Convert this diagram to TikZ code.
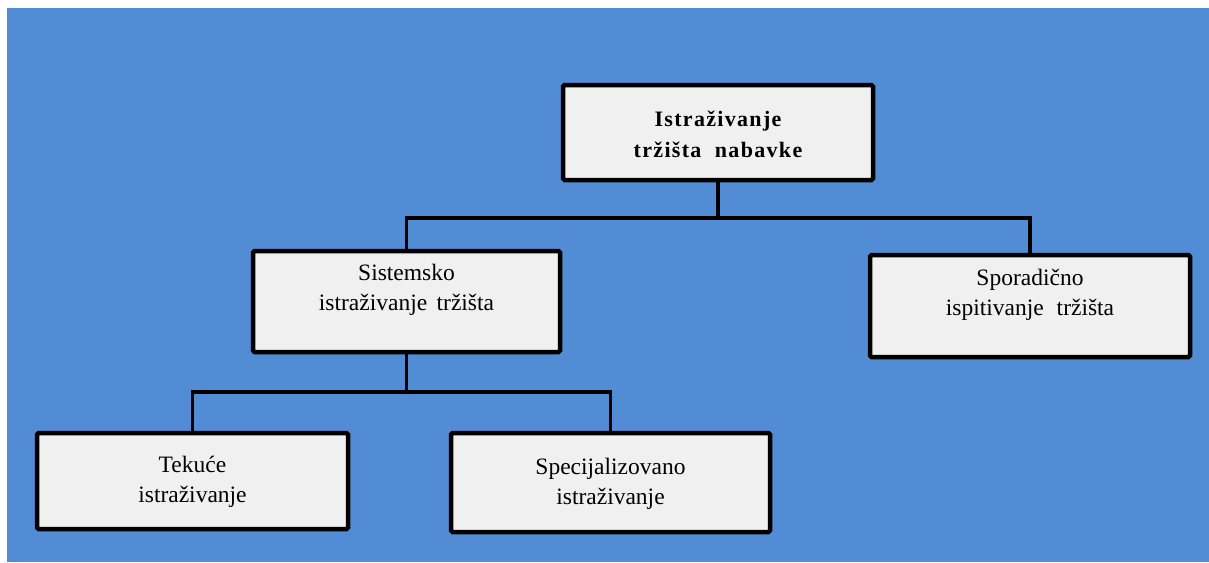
\documentclass[tikz,border=0pt]{standalone}
\usepackage{fontspec}
\setmainfont{Liberation Serif}
\newfontfamily\spacedbold[LetterSpace=6]{Liberation Serif}
\definecolor{bgblue}{RGB}{81,140,213}
\definecolor{boxgray}{RGB}{240,240,240}
\tikzset{
  box/.style={draw=black, line width=4.5pt, fill=boxgray, rounded corners=1.5pt, inner sep=0pt},
  boxtext/.style={align=center, font=\fontsize{23.5}{30}\selectfont, inner sep=0pt},
  conn/.style={draw=black, line width=3.8pt, line cap=rect}
}
\begin{document}
\begin{tikzpicture}[x=1pt,y=-1pt]
\useasboundingbox (0,0) rectangle (1209,562);
\fill[bgblue] (7,8) rectangle (1209,562);
% boxes
\node[box, minimum width=310pt, minimum height=95pt] (top) at (718,132.5) {};
\node[box, minimum width=307pt, minimum height=101pt] (sis) at (406.5,301.5) {};
\node[box, minimum width=320pt, minimum height=102pt] (spo) at (1030,306) {};
\node[box, minimum width=311pt, minimum height=96pt] (tek) at (192.5,481) {};
\node[box, minimum width=319pt, minimum height=99pt] (spe) at (610.5,482.5) {};
% texts
\node[boxtext, font=\fontsize{22}{31}\selectfont\spacedbold\bfseries] (topT) at (718,134) {Istraživanje\\tržišta\hspace{0.3em} nabavke};
\node[boxtext] (sisT) at (406.5,290) {Sistemsko\\istraživanje\hspace{0.15em} tržišta};
\node[boxtext] (spoT) at (1030,295) {Sporadično\\ispitivanje\hspace{0.3em} tržišta};
\node[boxtext] (tekT) at (192.5,482) {Tekuće\\istraživanje};
\node[boxtext] (speT) at (610.5,484) {Specijalizovano\\istraživanje};
% connectors
\coordinate (j1) at (718,218);
\coordinate (j2) at (406.5,392);
\draw[conn] (top.south) -- (j1);
\draw[conn] (sis.north) |- (j1) -| (spo.north);
\draw[conn] (sis.south) -- (j2);
\draw[conn] (tek.north) |- (j2) -| (spe.north);
\end{tikzpicture}
\end{document}
